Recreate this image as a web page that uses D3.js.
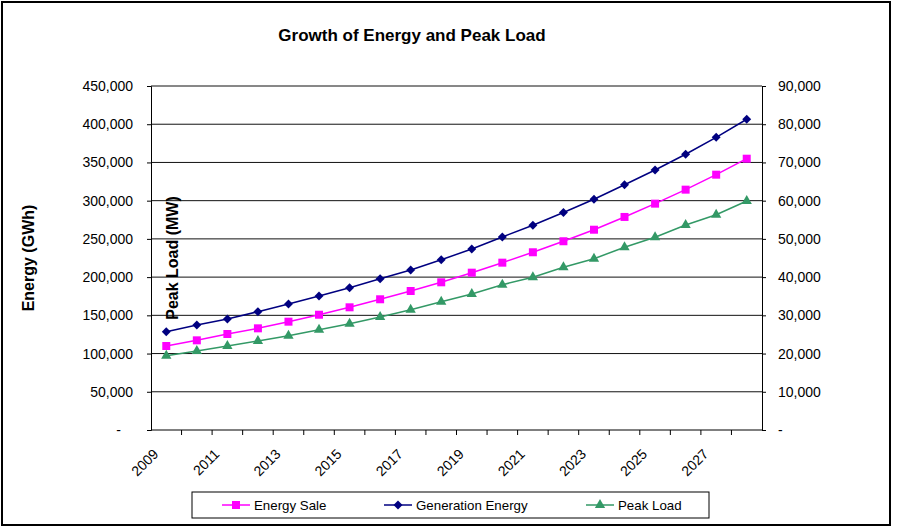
<!DOCTYPE html>
<html>
<head>
<meta charset="utf-8">
<script src="https://cdn.jsdelivr.net/npm/d3@7"></script>
<style>
  body { margin: 0; background: white; }
  text { font-family: "Liberation Sans", Arial, sans-serif; }
</style>
</head>
<body>
<div id="container"></div>
<script>
let w = 898;
let h = 529;

// data
let years = ["2009","2010","2011","2012","2013","2014","2015","2016","2017","2018",
             "2019","2020","2021","2022","2023","2024","2025","2026","2027","2028"];
let energySale = [109900,117300,125600,133000,141700,150800,160500,171000,181800,193200,
                  205800,218900,232500,246900,262000,278700,296100,314400,334000,354900];
let generationEnergy = [128600,137400,145200,154800,164800,175300,186200,197900,209300,222700,
                        236800,252500,267900,284500,301900,320800,340100,360700,382900,406500];
let peakLoad = [19440,20670,21980,23280,24670,26240,27810,29560,31470,33570,
                35580,38010,39950,42570,44820,47800,50420,53630,56330,59910];
let leftTicks = [0,50000,100000,150000,200000,250000,300000,350000,400000,450000];
let rightTicks = [0,10000,20000,30000,40000,50000,60000,70000,80000,90000];

let viz = d3.select("#container")
  .append("svg")
    .attr("width", w)
    .attr("height", h)
    .style("background-color", "white")
;

// outer frame
viz.append("rect")
    .attr("x", 2).attr("y", 2)
    .attr("width", 888).attr("height", 523)
    .attr("fill", "none")
    .attr("stroke", "black")
    .attr("stroke-width", 2)
;

let plotLeft = 151, plotRight = 762, plotTop = 86, plotBottom = 430;

let xScale = d3.scaleBand().domain(years).range([plotLeft, plotRight]);
let yLeft = d3.scaleLinear().domain([0,450000]).range([plotBottom, plotTop]);
let yRight = d3.scaleLinear().domain([0,90000]).range([plotBottom, plotTop]);

function fmt(v){
  return v === 0 ? "-" : d3.format(",")(v);
}

// gridlines
viz.selectAll(".grid").data(leftTicks.slice(1)).enter()
  .append("line")
    .attr("x1", plotLeft).attr("x2", plotRight)
    .attr("y1", d => yLeft(d)).attr("y2", d => yLeft(d))
    .attr("stroke", "#111")
    .attr("stroke-width", 1)
;

// left axis
let leftAxis = d3.axisLeft(yLeft).tickValues(leftTicks).tickFormat(fmt).tickSizeOuter(0).tickSize(4).tickPadding(14);
let gl = viz.append("g").attr("transform", "translate(" + plotLeft + ",0)").call(leftAxis);
gl.selectAll(".tick text").filter(d => d === 0).attr("dx", -12);

// right axis
let rightAxis = d3.axisRight(yRight).tickValues(rightTicks).tickFormat(fmt).tickSizeOuter(0).tickSize(4).tickPadding(12);
let gr = viz.append("g").attr("transform", "translate(" + plotRight + ",0)").call(rightAxis);

[gl, gr].forEach(g => {
  g.selectAll("text").attr("font-size", 14).attr("font-family", "Liberation Sans, Arial, sans-serif").attr("fill", "black");
  g.selectAll("line").attr("stroke", "black");
  g.select(".domain").attr("stroke", "black");
});

// bottom axis: ticks between categories
let xAxisG = viz.append("g");
xAxisG.append("line")
    .attr("x1", plotLeft).attr("x2", plotRight)
    .attr("y1", plotBottom).attr("y2", plotBottom)
    .attr("stroke", "black");
xAxisG.selectAll(".xt").data(years.slice(1)).enter()
  .append("line")
    .attr("x1", d => xScale(d)).attr("x2", d => xScale(d))
    .attr("y1", plotBottom).attr("y2", plotBottom + 5)
    .attr("stroke", "black");
xAxisG.selectAll(".xl").data(years.filter((d, i) => i % 2 == 0)).enter()
  .append("text")
    .text(d => d)
    .attr("transform", d => "translate(" + (xScale(d) + xScale.bandwidth()/2 - 7) + "," + (plotBottom + 25) + ") rotate(-45)")
    .attr("text-anchor", "end")
    .attr("font-size", 14)
    .attr("fill", "black")
;

// series
function cx(d, i){ return xScale(years[i]) + xScale.bandwidth()/2; }

let series = [
  {name: "Energy Sale", values: energySale, scale: yLeft, color: "#FF00FF", symbol: d3.symbolSquare, size: 64, rot: 0},
  {name: "Generation Energy", values: generationEnergy, scale: yLeft, color: "#000080", symbol: d3.symbolSquare, size: 40, rot: 45},
  {name: "Peak Load", values: peakLoad, scale: yRight, color: "#339966", symbol: d3.symbolTriangle, size: 46, rot: 0}
];

series.forEach(s => {
  let line = d3.line().x(cx).y(d => s.scale(d));
  viz.append("path")
      .datum(s.values)
      .attr("d", line)
      .attr("fill", "none")
      .attr("stroke", s.color)
      .attr("stroke-width", 1.5);
  viz.selectAll(null).data(s.values).enter()
    .append("path")
      .attr("d", d3.symbol().type(s.symbol).size(s.size))
      .attr("transform", (d, i) => "translate(" + cx(d, i) + "," + s.scale(d) + ") rotate(" + s.rot + ")")
      .attr("fill", s.color);
});

// titles
viz.append("text")
    .text("Growth of Energy and Peak Load")
    .attr("x", 412).attr("y", 41)
    .attr("text-anchor", "middle")
    .attr("font-size", 17)
    .attr("font-weight", "bold");

viz.append("text")
    .text("Energy (GWh)")
    .attr("transform", "translate(34,258) rotate(-90)")
    .attr("text-anchor", "middle")
    .attr("font-size", 16)
    .attr("font-weight", "bold");

viz.append("text")
    .text("Peak Load (MW)")
    .attr("transform", "translate(178,258) rotate(-90)")
    .attr("text-anchor", "middle")
    .attr("font-size", 16)
    .attr("font-weight", "bold");

// legend
let legend = viz.append("g");
legend.append("rect")
    .attr("x", 192).attr("y", 492)
    .attr("width", 517).attr("height", 26)
    .attr("fill", "white")
    .attr("stroke", "black")
    .attr("stroke-width", 1);

let legendX = [222, 384, 586];
series.forEach((s, i) => {
  let x0 = legendX[i];
  legend.append("line")
      .attr("x1", x0).attr("x2", x0 + 28)
      .attr("y1", 505).attr("y2", 505)
      .attr("stroke", s.color).attr("stroke-width", 1.5);
  legend.append("path")
      .attr("d", d3.symbol().type(s.symbol).size(s.size))
      .attr("transform", "translate(" + (x0 + 14) + ",505) rotate(" + s.rot + ")")
      .attr("fill", s.color);
  legend.append("text")
      .text(s.name)
      .attr("x", x0 + 32).attr("y", 505)
      .attr("dy", "0.36em")
      .attr("font-size", 13.3);
});
</script>
</body>
</html>
